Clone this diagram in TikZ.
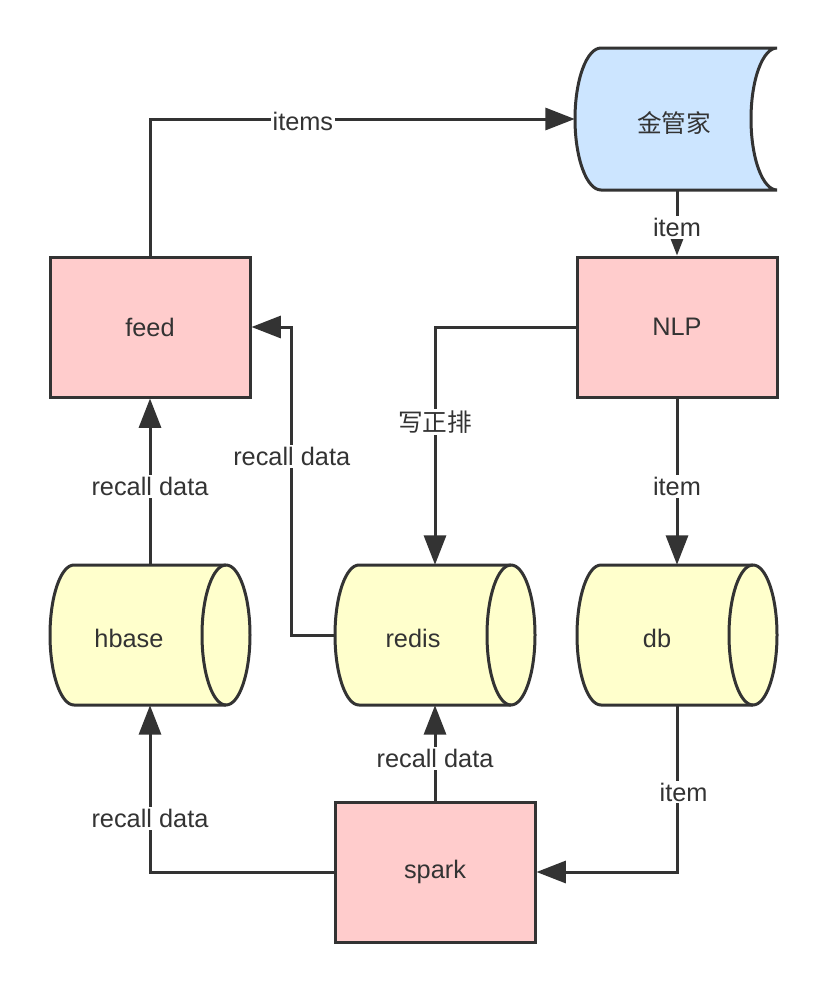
\documentclass[tikz,border=0pt]{standalone}
\usepackage{fontspec}
\setmainfont{Liberation Sans}
\newfontfamily\cjk{Noto Sans CJK SC}
\usetikzlibrary{arrows.meta}
\definecolor{ink}{HTML}{333333}
\definecolor{pinkf}{HTML}{FFCCCC}
\definecolor{yelf}{HTML}{FFFFCC}
\definecolor{bluef}{HTML}{CCE5FF}
\tikzset{
  box/.style={draw=ink, line width=2.25pt, fill=pinkf, minimum width=150pt, minimum height=105pt, inner sep=0pt, text=ink, font=\fontsize{19}{22}\selectfont},
  cylnode/.style={minimum width=150pt, minimum height=105pt, inner sep=0pt},
  txt/.style={inner sep=0pt, text=ink, font=\fontsize{19}{22}\selectfont},
  shp/.style={draw=ink, line width=2.25pt},
  conn/.style={draw=ink, line width=2.25pt, -{Triangle[length=22pt,width=16.5pt]}},
  lbl/.style={fill=white, inner sep=1.5pt, text=ink, font=\fontsize{19}{22}\selectfont},
}
\newcommand\cylshape{%
  \path[shp, fill=yelf] (-76,-70) -- (76,-70) .. controls (89.26,-70) and (100,-38.66) .. (100,0) .. controls (100,38.66) and (89.26,70) .. (76,70) -- (-76,70) .. controls (-89.26,70) and (-100,38.66) .. (-100,0) .. controls (-100,-38.66) and (-89.26,-70) .. (-76,-70) -- cycle;
  \path[shp] (76,-70) .. controls (62.74,-70) and (52,-38.66) .. (52,0) .. controls (52,38.66) and (62.74,70) .. (76,70);
}
\begin{document}
\begin{tikzpicture}[x=0.75pt, y=-0.75pt]
\useasboundingbox[fill=white] (0,0) rectangle (828,992);
% storage shape
\begin{scope}[shift={(677,119)}]
\path[shp, fill=bluef] (-76,-71) -- (100,-71) .. controls (85.64,-71) and (74,-39.21) .. (74,0) .. controls (74,39.21) and (85.64,71) .. (100,71) -- (-76,71) .. controls (-90.36,71) and (-102,39.21) .. (-102,0) .. controls (-102,-39.21) and (-90.36,-71) .. (-76,-71) -- cycle;
\end{scope}
\node[cylnode, minimum width=153pt, minimum height=106.5pt] (jgj) at (677,119) {};
\node[txt] (jgjT) at (674,123) {\cjk\fontsize{18.5}{22}\selectfont 金管家};
% cylinders
\begin{scope}[shift={(150,635)}]\cylshape\end{scope}
\begin{scope}[shift={(435,635)}]\cylshape\end{scope}
\begin{scope}[shift={(677,635)}]\cylshape\end{scope}
\node[cylnode] (hbase) at (150,635) {};
\node[cylnode] (redis) at (435,635) {};
\node[cylnode] (db) at (677,635) {};
\node[txt] (hbaseT) at (129,638) {hbase};
\node[txt] (redisT) at (413,638) {redis};
\node[txt] (dbT) at (657,638) {db};
% boxes
\node[box] (feed) at (150,327) {feed};
\node[box] (nlp) at (677,327) {NLP};
\node[box] (spark) at (435,872) {spark};
% connectors
\draw[conn] (feed.north) |- node[lbl, pos=0.68, yshift=-2pt] {items} (jgj.west);
\draw[conn] (jgj.south) -- node[lbl, pos=0.57] {item} (nlp.north);
\draw[conn] (nlp.west) -| node[lbl, pos=0.7] {\cjk\fontsize{18.5}{22}\selectfont 写正排} (redis.north);
\draw[conn] (nlp.south) -- node[lbl, pos=0.53] {item} (db.north);
\draw[conn] (hbase.north) -- node[lbl, pos=0.47] {recall data} (feed.south);
\draw[conn] (redis.west) -- ++(-43,0) |- node[lbl, pos=0.29] {recall data} (feed.east);
\draw[conn] (spark.north) -- node[lbl, pos=0.44] {recall data} (redis.south);
\draw[conn] (spark.west) -| node[lbl, pos=0.66] {recall data} (hbase.south);
\draw[conn] (db.south) |- node[lbl, pos=0.26, xshift=5pt] {item} (spark.east);
\end{tikzpicture}
\end{document}
